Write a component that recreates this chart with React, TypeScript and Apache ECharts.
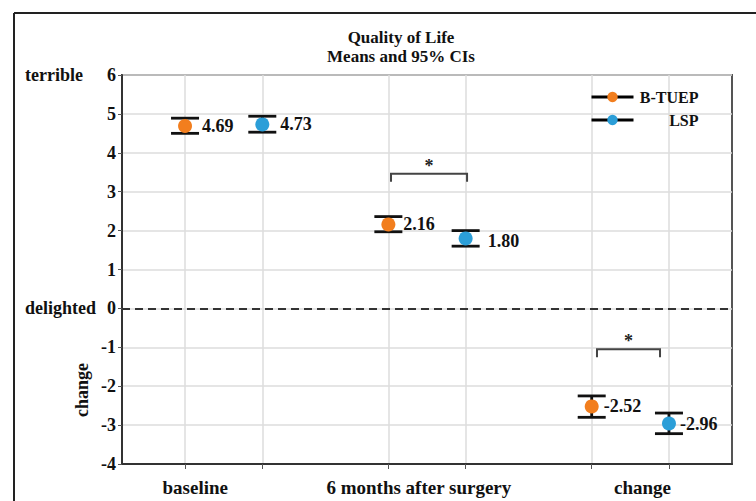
import React, { useEffect, useRef } from "react";
import * as echarts from "echarts";

// ---- data ----
const categories = ["baseline", "6 months after surgery", "change"];
const seriesNames = ["B-TUEP", "LSP"];
const btuepMean = [4.69, 2.16, -2.52];
const btuepLower = [4.5, 1.97, -2.8];
const btuepUpper = [4.89, 2.36, -2.25];
const lspMean = [4.73, 1.8, -2.96];
const lspLower = [4.53, 1.6, -3.22];
const lspUpper = [4.94, 2.0, -2.69];
const yMin = -4;
const yMax = 6;
const anchorLabels = ["delighted", "terrible"]; // at y = 0 and y = 6
const anchorValues = [0, 6];
// significance brackets: [xStart, xEnd, yTop]
const brackets = [
  [0.823, 1.197, 3.46],
  [1.836, 2.146, -1.05],
];

// ---- layout / style (not data) ----
const groupOffset = 0.19;
const labelShift = [-0.14, -0.04, 0.06];
const btuepNudge = [
  [10, 0],
  [8, 0],
  [5, 0],
];
const lspNudge = [
  [11, 0],
  [15, 3],
  [4, 0],
];
const ORANGE = "#F27E1E";
const BLUE = "#2B9ED8";
const FONT = "'Liberation Serif', 'Times New Roman', serif";

export default function App() {
  const ref = useRef<HTMLDivElement>(null);
  useEffect(() => {
    if (!ref.current) return;
    const chart = echarts.init(ref.current, null, { renderer: "svg" });

    const xPos = (i: number, g: number) => i + (g === 0 ? -groupOffset : groupOffset);
    const tickVals: number[] = [];
    categories.forEach((_, i) => {
      tickVals.push(xPos(i, 0), xPos(i, 1));
    });
    const catLabelVals = categories.map((_, i) => i + labelShift[i]);

    const errData: number[][] = [];
    categories.forEach((_, i) => {
      errData.push([xPos(i, 0), btuepLower[i], btuepUpper[i]]);
      errData.push([xPos(i, 1), lspLower[i], lspUpper[i]]);
    });

    const mkPoints = (mean: number[], g: number, nudge: number[][]) =>
      mean.map((m, i) => ({
        value: [xPos(i, g), m],
        label: { distance: nudge[i][0], offset: [0, nudge[i][1]] },
      }));

    const labelStyle = {
      show: true,
      position: "right",
      fontFamily: FONT,
      fontWeight: "bold",
      fontSize: 18,
      color: "#111",
      formatter: (p: any) => p.value[1].toFixed(2),
    };

    const option: any = {
      animation: false,
      backgroundColor: "#fff",
      title: {
        text: "Quality of Life\nMeans and 95% CIs",
        left: 396,
        top: 23,
        textAlign: "center",
        textStyle: {
          fontFamily: FONT,
          fontWeight: "bold",
          fontSize: 17,
          lineHeight: 19,
          color: "#111",
        },
      },
      legend: {
        orient: "vertical",
        left: 585,
        top: 84,
        itemWidth: 42,
        itemHeight: 13,
        itemGap: 7,
        data: seriesNames,
        lineStyle: { color: "#000", width: 3, opacity: 1 },
        formatter: (n: string) => `{t|${n}}`,
        textStyle: {
          rich: {
            t: {
              width: 60,
              align: "right",
              fontFamily: FONT,
              fontWeight: "bold",
              fontSize: 16,
              color: "#111",
            },
          },
        },
      },
      grid: {
        left: 122,
        top: 75,
        width: 610,
        height: 389,
        show: true,
        borderColor: "#555",
        borderWidth: 2,
        backgroundColor: "transparent",
      },
      xAxis: {
        type: "value",
        min: -0.5,
        max: 2.5,
        axisLine: { onZero: false, lineStyle: { color: "#333", width: 2 } },
        axisTick: {
          show: true,
          customValues: tickVals,
          length: 5,
          lineStyle: { color: "#555", width: 1 },
        },
        splitLine: { show: true, lineStyle: { color: "#dcdcdc", width: 1.5 } },
        axisLabel: {
          customValues: catLabelVals,
          margin: 14,
          fontFamily: FONT,
          fontWeight: "bold",
          fontSize: 19,
          color: "#111",
          formatter: (v: number) => {
            let best = 0;
            catLabelVals.forEach((c, i) => {
              if (Math.abs(c - v) < Math.abs(catLabelVals[best] - v)) best = i;
            });
            return categories[best];
          },
        },
      },
      yAxis: [
        {
          type: "value",
          min: yMin,
          max: yMax,
          interval: 1,
          axisLine: { show: true, onZero: false, lineStyle: { color: "#333", width: 2 } },
          axisTick: { show: true, length: 4, lineStyle: { color: "#555" } },
          splitLine: { show: true, lineStyle: { color: "#dcdcdc", width: 1.5 } },
          axisLabel: {
            margin: 6,
            fontFamily: FONT,
            fontWeight: "bold",
            fontSize: 18,
            color: "#111",
          },
        },
        {
          type: "value",
          min: yMin,
          max: yMax,
          position: "left",
          axisLine: { show: false, onZero: false },
          axisTick: { show: false },
          splitLine: { show: false },
          axisLabel: {
            customValues: anchorValues,
            margin: 97,
            align: "left",
            fontFamily: FONT,
            fontWeight: "bold",
            fontSize: 18,
            color: "#111",
            formatter: (v: number) => anchorLabels[anchorValues.indexOf(v)] ?? "",
          },
        },
      ],
      graphic: [
        {
          type: "line",
          shape: { x1: 14, y1: 13, x2: 756, y2: 13 },
          style: { stroke: "#222", lineWidth: 2 },
        },
        {
          type: "line",
          shape: { x1: 14, y1: 13, x2: 14, y2: 501 },
          style: { stroke: "#222", lineWidth: 2 },
        },
        {
          type: "text",
          x: 82,
          y: 390,
          rotation: Math.PI / 2,
          style: {
            text: "change",
            fontFamily: FONT,
            fontWeight: "bold",
            fontSize: 18,
            fill: "#111",
            align: "center",
            verticalAlign: "middle",
          },
        },
      ],
      series: [
        {
          type: "custom",
          name: "errorbars",
          z: 3,
          silent: true,
          data: errData,
          encode: { x: 0, y: [1, 2] },
          renderItem: (params: any, api: any) => {
            const x = api.value(0);
            const lo = api.coord([x, api.value(1)]);
            const hi = api.coord([x, api.value(2)]);
            const hw = 14;
            const st = { stroke: "#111", lineWidth: 2.8 };
            return {
              type: "group",
              children: [
                { type: "line", shape: { x1: lo[0], y1: lo[1], x2: hi[0], y2: hi[1] }, style: st },
                { type: "line", shape: { x1: lo[0] - hw, y1: lo[1], x2: lo[0] + hw, y2: lo[1] }, style: st },
                { type: "line", shape: { x1: hi[0] - hw, y1: hi[1], x2: hi[0] + hw, y2: hi[1] }, style: st },
              ],
            };
          },
        },
        {
          type: "custom",
          name: "brackets",
          z: 3,
          silent: true,
          data: brackets,
          encode: { x: [0, 1], y: 2 },
          renderItem: (params: any, api: any) => {
            const a = api.coord([api.value(0), api.value(2)]);
            const b = api.coord([api.value(1), api.value(2)]);
            const drop = 8;
            return {
              type: "group",
              children: [
                {
                  type: "polyline",
                  shape: {
                    points: [
                      [a[0], a[1] + drop],
                      [a[0], a[1]],
                      [b[0], b[1]],
                      [b[0], b[1] + drop],
                    ],
                  },
                  style: { stroke: "#444", lineWidth: 2, fill: "none" },
                },
                {
                  type: "text",
                  x: (a[0] + b[0]) / 2,
                  y: a[1] - 8,
                  style: {
                    text: "*",
                    fontFamily: FONT,
                    fontWeight: "bold",
                    fontSize: 18,
                    fill: "#222",
                    align: "center",
                    verticalAlign: "middle",
                  },
                },
              ],
            };
          },
        },
        {
          type: "line",
          name: seriesNames[0],
          z: 5,
          data: mkPoints(btuepMean, 0, btuepNudge),
          symbol: "circle",
          symbolSize: 14,
          showSymbol: true,
          itemStyle: { color: ORANGE },
          lineStyle: { width: 0, opacity: 0 },
          label: labelStyle,
          markLine: {
            silent: true,
            symbol: "none",
            label: { show: false },
            lineStyle: { type: [8, 5], color: "#333", width: 2 },
            data: [{ yAxis: 0 }],
          },
        },
        {
          type: "line",
          name: seriesNames[1],
          z: 5,
          data: mkPoints(lspMean, 1, lspNudge),
          symbol: "circle",
          symbolSize: 14,
          showSymbol: true,
          itemStyle: { color: BLUE },
          lineStyle: { width: 0, opacity: 0 },
          label: labelStyle,
        },
      ],
    };
    chart.setOption(option);
    return () => chart.dispose();
  }, []);

  return (
    <div
      ref={ref}
      style={{ position: "fixed", left: 0, top: 0, width: 756, height: 501 }}
    />
  );
}
